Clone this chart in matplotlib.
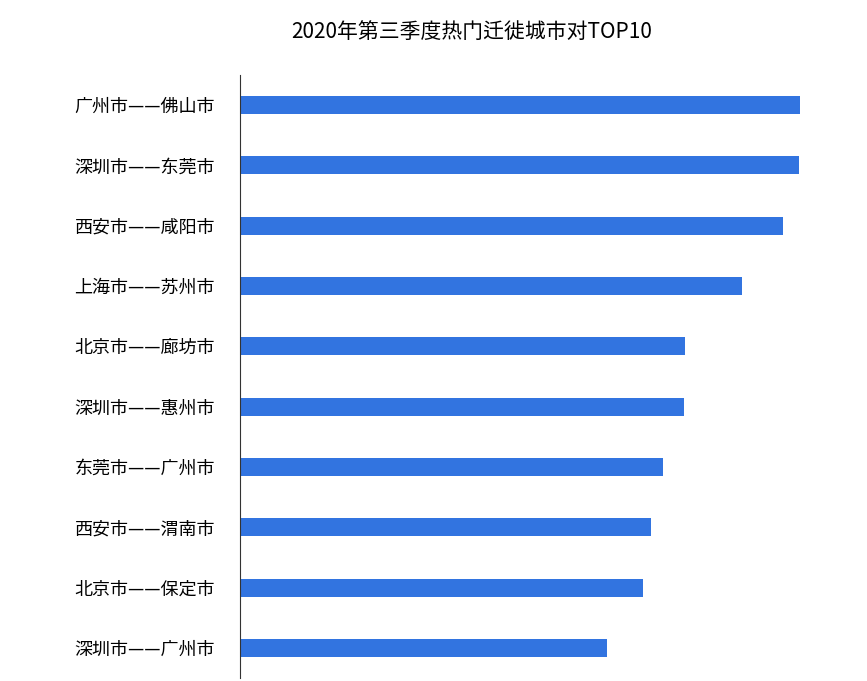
import matplotlib
matplotlib.use("Agg")
import matplotlib.pyplot as plt
from matplotlib import font_manager as fm

cjk = None
for f in fm.findSystemFonts():
    if "NotoSansCJK" in f.replace(" ", "") or "NotoSansSC" in f:
        cjk = f
        if "Regular" in f:
            break
if cjk:
    fm.fontManager.addfont(cjk)
    name = fm.FontProperties(fname=cjk).get_name()
    plt.rcParams["font.family"] = [name, "DejaVu Sans"]
else:
    plt.rcParams["font.family"] = ["Noto Sans CJK SC", "Noto Sans CJK JP", "DejaVu Sans"]

categories = ["广州市——佛山市", "深圳市——东莞市", "西安市——咸阳市", "上海市——苏州市",
              "北京市——廊坊市", "深圳市——惠州市", "东莞市——广州市", "西安市——渭南市",
              "北京市——保定市", "深圳市——广州市"]
values = [560, 559, 543, 502, 445, 444, 423, 411, 403, 367]

fig = plt.figure(figsize=(8.67, 6.81), dpi=100)
ax = fig.add_axes([240/867, 3/681, 600/867, 603/681])
ax.barh(range(len(categories)), values, height=0.3, color="#3274E0")
ax.set_yticks(range(len(categories)))
ax.set_yticklabels(categories, fontsize=13)
ax.set_ylim(9.5, -0.5)
ax.set_xlim(0, 600)
ax.set_xticks([])
for s in ["top", "right", "bottom"]:
    ax.spines[s].set_visible(False)
ax.spines["left"].set_color("#333333")
ax.tick_params(axis="y", length=0, pad=18)
fig.text(472/867, 1-32/681, "2020年第三季度热门迁徙城市对TOP10", ha="center", va="center", fontsize=15)
fig.savefig("out.png", dpi=100)
